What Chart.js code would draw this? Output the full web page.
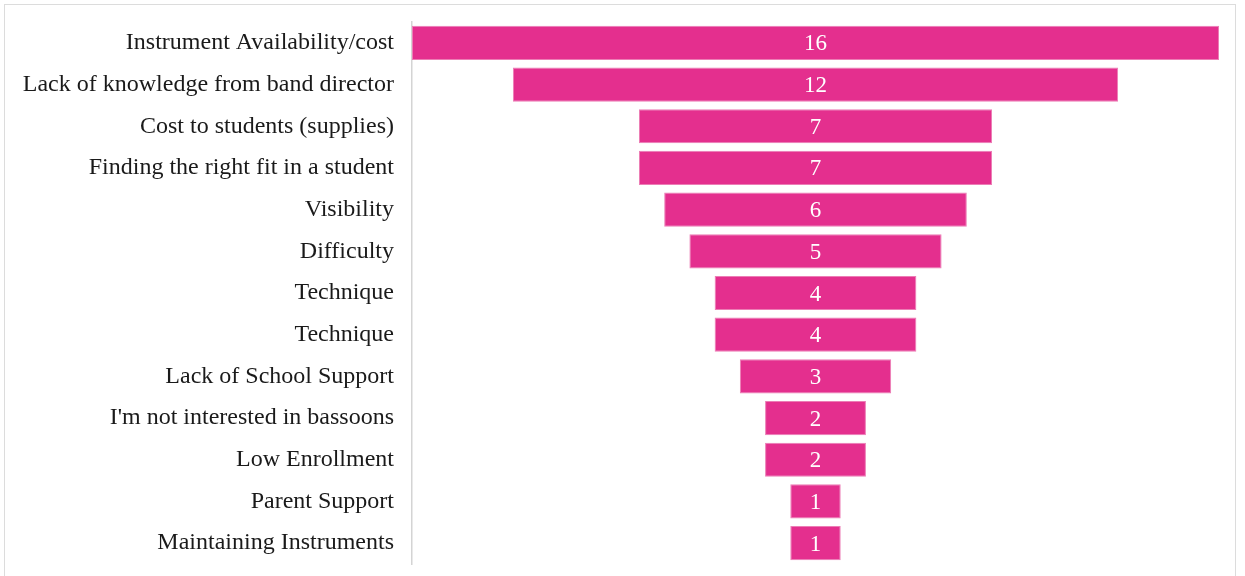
<!DOCTYPE html>
<html>
<head>
<meta charset="utf-8">
<script src="https://cdn.jsdelivr.net/npm/chart.js@4/dist/chart.umd.min.js"></script>
<style>
  html, body { margin: 0; padding: 0; background: #fff; }
  .frame { position: absolute; left: 4px; top: 4px; width: 1232px; height: 580px; border: 1px solid #dcdcdc; box-sizing: border-box; }
  .wrap { position: absolute; left: 0; top: 0; width: 1245px; height: 576px; }
</style>
</head>
<body>
<div class="frame"></div>
<div class="wrap"><canvas id="funnel"></canvas></div>
<script>
// funnel: each bar is centred on zero, width = count
const reasons = [
  'Instrument Availability/cost',
  'Lack of knowledge from band director',
  'Cost to students (supplies)',
  'Finding the right fit in a student',
  'Visibility',
  'Difficulty',
  'Technique',
  'Technique',
  'Lack of School Support',
  "I'm not interested in bassoons",
  'Low Enrollment',
  'Parent Support',
  'Maintaining Instruments',
];
const counts = [16, 12, 7, 7, 6, 5, 4, 4, 3, 2, 2, 1, 1];

const PINK = '#e42f8e';
const SERIF = '"Liberation Serif", "DejaVu Serif", serif';

// write the count in the middle of each bar
const valueLabels = {
  id: 'valueLabels',
  afterDatasetsDraw(chart) {
    const ctx = chart.ctx;
    const meta = chart.getDatasetMeta(0);
    ctx.save();
    ctx.fillStyle = '#fff';
    ctx.font = '23px ' + SERIF;
    ctx.textAlign = 'center';
    ctx.textBaseline = 'middle';
    meta.data.forEach((bar, i) => {
      const xMid = chart.scales.x.getPixelForValue(0);
      ctx.fillText(String(counts[i]), xMid, bar.y + 1.5);
    });
    ctx.restore();
  }
};

new Chart(document.getElementById('funnel'), {
  type: 'bar',
  data: {
    labels: reasons,
    datasets: [{
      data: counts.map(v => [-v / 2, v / 2]),
      backgroundColor: PINK,
      borderColor: '#ec7db5',
      borderWidth: 1,
      borderSkipped: false,
      barPercentage: 0.82,
      categoryPercentage: 1,
    }]
  },
  options: {
    indexAxis: 'y',
    responsive: true,
    maintainAspectRatio: false,
    animation: false,
    layout: { padding: { left: 0, right: 26, top: 22, bottom: 12 } },
    plugins: { legend: { display: false }, tooltip: { enabled: false } },
    scales: {
      x: {
        min: -8, max: 8,
        display: false,
      },
      y: {
        grid: { display: false, drawTicks: false },
        border: { display: true, color: '#d4d4d4', width: 1.5 },
        ticks: {
          color: '#1a1a1a',
          font: { family: SERIF, size: 24 },
          padding: 18,
        },
        afterFit: s => {
          s.width = 412;
          s.paddingTop = 0;
          s.paddingBottom = 0;
        },
      }
    }
  },
  plugins: [valueLabels]
});
</script>
</body>
</html>
